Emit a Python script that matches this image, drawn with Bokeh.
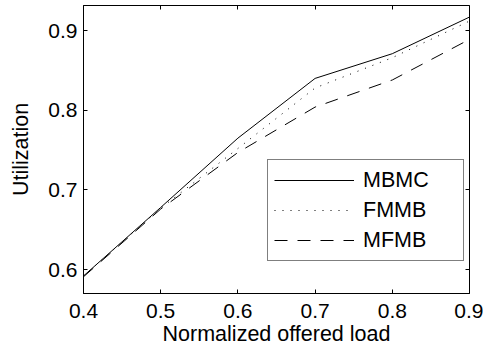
from bokeh.plotting import figure
from bokeh.models import (LinearAxis, Range1d, FixedTicker, Legend, LegendItem,
                          CustomJSTickFormatter)
from bokeh.embed import file_html
from bokeh.resources import INLINE

load = [0.4, 0.5, 0.6, 0.7, 0.8, 0.9]
mbmc = [0.592, 0.678, 0.765, 0.840, 0.871, 0.917]
fmmb = [0.592, 0.677, 0.752, 0.828, 0.866, 0.912]
mfmb = [0.591, 0.676, 0.747, 0.804, 0.838, 0.889]
x_ticks = [0.4, 0.5, 0.6, 0.7, 0.8, 0.9]
y_ticks = [0.6, 0.7, 0.8, 0.9]

FONT = "Liberation Sans"

p = figure(width=483, height=350, output_backend="svg", toolbar_location=None,
           x_range=Range1d(0.4, 0.9), y_range=Range1d(0.57, 0.9315),
           min_border_left=83, min_border_right=14, min_border_top=5,
           min_border_bottom=57)
p.background_fill_color = "white"
p.border_fill_color = "white"
p.outline_line_color = "black"
p.outline_line_width = 1
p.xgrid.visible = False
p.ygrid.visible = False

for ax, ticks in ((p.xaxis[0], x_ticks), (p.yaxis[0], y_ticks)):
    ax.ticker = FixedTicker(ticks=ticks)
    ax.major_tick_in = 4
    ax.major_tick_out = 0
    ax.minor_tick_line_color = None
    ax.axis_line_color = "black"
    ax.major_tick_line_color = "black"
    ax.major_label_text_font = FONT
    ax.major_label_text_font_size = "21px"
    ax.major_label_text_color = "black"
    ax.axis_label_text_font = FONT
    ax.axis_label_text_font_size = "21.5px"
    ax.axis_label_text_font_style = "normal"
    ax.axis_label_text_color = "black"

p.xaxis[0].axis_label = "Normalized offered load"
p.yaxis[0].axis_label = "Utilization"
p.xaxis[0].major_label_standoff = 10
p.xaxis[0].axis_label_standoff = 1
p.yaxis[0].major_label_standoff = 6
p.yaxis[0].axis_label_standoff = 12

# mirrored ticks on top and right (no labels)
blank = CustomJSTickFormatter(code="return ''")
top = LinearAxis(ticker=FixedTicker(ticks=x_ticks), major_tick_in=4, major_tick_out=0,
                 minor_tick_line_color=None, formatter=blank,
                 major_label_standoff=0, axis_line_color=None)
right = LinearAxis(ticker=FixedTicker(ticks=y_ticks), major_tick_in=4, major_tick_out=0,
                   minor_tick_line_color=None, formatter=blank,
                   major_label_standoff=0, axis_line_color=None)
p.add_layout(top, "above")
p.add_layout(right, "right")

r1 = p.line(load, mbmc, line_color="black", line_width=1)
r2 = p.line(load, fmmb, line_color="black", line_width=1, line_dash="1 7")
r3 = p.line(load, mfmb, line_color="black", line_width=1, line_dash="13 10")

legend = Legend(items=[LegendItem(label="MBMC", renderers=[r1]),
                       LegendItem(label="FMMB", renderers=[r2]),
                       LegendItem(label="MFMB", renderers=[r3])],
                location=(184, 32))
legend.label_text_font = FONT
legend.label_text_font_size = "21.5px"
legend.label_text_color = "black"
legend.glyph_width = 80
legend.glyph_height = 28
legend.spacing = 2
legend.padding = 6
legend.margin = 0
legend.label_standoff = 9
legend.label_width = 94
legend.border_line_color = "black"
legend.border_line_width = 1
legend.background_fill_alpha = 1
p.add_layout(legend, "center")

open("out.html", "w").write(file_html(p, INLINE))
